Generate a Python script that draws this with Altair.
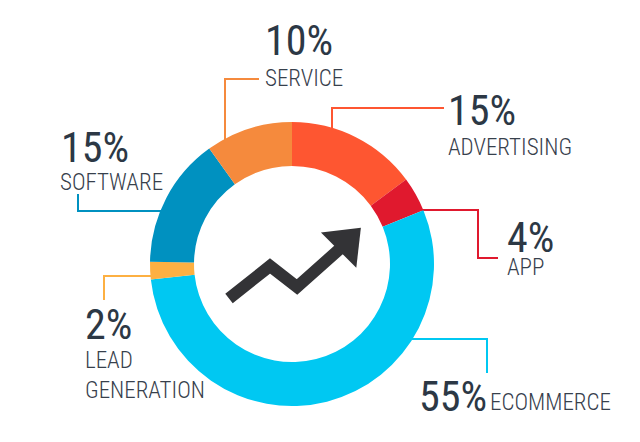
import altair as alt
import pandas as pd

# ---- data ----
categories = ["Advertising", "App", "Ecommerce", "Lead Generation", "Software", "Service"]
shares = [15, 4, 55, 2, 15, 10]
share_labels = ["15%", "4%", "55%", "2%", "15%", "10%"]
names = [["ADVERTISING"], ["APP"], ["ECOMMERCE"], ["LEAD", "GENERATION"], ["SOFTWARE"], ["SERVICE"]]

# ---- styles / layout (reference pixel space) ----
colors = ["#FE5631", "#E0192E", "#00C8F2", "#FDB042", "#0091C0", "#F58A3D"]
center_x, center_y = 292, 264
number_x = [448, 507, 419, 85, 61, 265]
number_y = [125, 252, 411, 339, 162, 55]
name_x = [448, 507, 490, 85, 60, 265]
name_y = [155, 275, 410, 368, 190, 86]
name_line_gap = 30
leader_x = [[332, 332, 443], [423, 478, 478, 497], [413, 487, 487], [152, 104, 104], [160, 78, 78], [225, 225, 258]]
leader_y = [[127, 108, 108], [210, 210, 258, 258], [339, 339, 372], [276, 276, 299], [211, 211, 195], [140, 79, 79]]
arrow_x = [229, 270, 297, 343]
arrow_y = [298.5, 266, 287, 246]
head_x, head_y = [349.75], [239]

W, H = 620, 420
xs = alt.Scale(domain=[8, 8 + W], zero=False, nice=False)
ys = alt.Scale(domain=[8, 8 + H], reverse=True, zero=False, nice=False)
cs = alt.Scale(domain=categories, range=colors)

slices = pd.DataFrame({"category": categories, "share": shares, "idx": list(range(len(categories)))})

leader_rows = []
for c, lx, ly in zip(categories, leader_x, leader_y):
    for k, (px, py) in enumerate(zip(lx, ly)):
        leader_rows.append({"category": c, "k": k, "x": px, "y": py})
leaders = pd.DataFrame(leader_rows)

num_df = pd.DataFrame({"category": categories, "t": share_labels, "x": number_x, "y": number_y})
name_rows = []
for c, lines, nx, ny in zip(categories, names, name_x, name_y):
    for i, ln in enumerate(lines):
        name_rows.append({"category": c, "t": ln, "x": nx, "y": ny + i * name_line_gap})
name_df = pd.DataFrame(name_rows)

arrow_df = pd.DataFrame({"x": arrow_x, "y": arrow_y, "k": list(range(len(arrow_x)))})
head_df = pd.DataFrame({"x": head_x, "y": head_y})

X = lambda: alt.X("x:Q", scale=xs, axis=None)
Y = lambda: alt.Y("y:Q", scale=ys, axis=None)

lines = alt.Chart(leaders).mark_line(strokeWidth=2, strokeCap="square").encode(
    x=X(), y=Y(), detail="category:N", order="k:Q",
    color=alt.Color("category:N", scale=cs, legend=None))

donut = alt.Chart(slices).mark_arc(innerRadius=98, radius=142).encode(
    theta=alt.Theta("share:Q", stack=True),
    order=alt.Order("idx:Q"),
    color=alt.Color("category:N", scale=cs, legend=None),
    x=alt.X(datum=center_x, type="quantitative", scale=xs, axis=None),
    y=alt.Y(datum=center_y, type="quantitative", scale=ys, axis=None))

shaft = alt.Chart(arrow_df).mark_line(strokeWidth=12, color="#333336", strokeJoin="miter", strokeCap="butt").encode(
    x=X(), y=Y(), order="k:Q")
head = alt.Chart(head_df).mark_point(shape="M -0.63 -1 L 0.63 0 L -0.63 1 Z", size=2500, angle=315,
                                     filled=True, color="#333336", opacity=1, strokeWidth=0).encode(x=X(), y=Y())

nums = alt.Chart(num_df).mark_text(font="Roboto Condensed", fontSize=42, fontWeight="normal", align="left",
                                   baseline="alphabetic", color="#2C3845").encode(x=X(), y=Y(), text="t:N")
labs = alt.Chart(name_df).mark_text(font="Roboto Condensed", fontSize=23, fontWeight=300, align="left",
                                    baseline="alphabetic", color="#37404C").encode(x=X(), y=Y(), text="t:N")

chart = alt.layer(lines, donut, shaft, head, nums, labs).properties(
    width=W, height=H, autosize=alt.AutoSizeParams(type="none"), padding=0
).configure_view(stroke=None)

chart.save("out.html", embed_options={"renderer": "svg", "actions": False})
